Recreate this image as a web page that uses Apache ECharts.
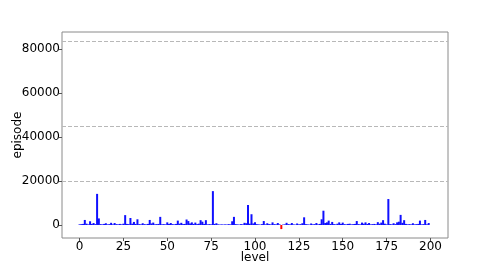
<!DOCTYPE html>
<html>
<head>
<meta charset="utf-8">
<script src="https://cdn.jsdelivr.net/npm/echarts@6/dist/echarts.min.js"></script>
<style>html,body{margin:0;padding:0;background:#fff}#c{width:498px;height:268px}</style>
</head>
<body>
<div id="c"></div>
<script>
const episodes = [
  300, 400, 500, 2300, 600, 300, 1700, 500, 900, 400,
  14150, 3000, 400, 300, 500, 800, 300, 400, 1000, 300,
  900, 400, 300, 500, 300, 600, 4500, 500, 400, 3200,
  600, 1400, 500, 2600, 400, 300, 800, 400, 300, 500,
  2300, 700, 1100, 300, 400, 500, 3700, 300, 400, 300,
  1200, 500, 900, 400, 300, 500, 2000, 600, 1000, 400,
  500, 2500, 1800, 700, 1200, 500, 1100, 400, 600, 2200,
  1500, 500, 2200, 300, 400, 300, 15400, 500, 800, 300,
  200, 300, 200, 300, 200, 400, 300, 1700, 3700, 400,
  300, 200, 400, 300, 1000, 800, 9100, 600, 4900, 700,
  1200, 400, 300, 200, 400, 1800, 300, 800, 400, 300,
  1200, 400, 300, 900, 300, -1850, 200, 300, 1000, 400,
  300, 900, 300, 200, 700, 300, 400, 800, 3500, 400,
  300, 200, 700, 300, 400, 900, 300, 500, 2600, 6500,
  900, 1200, 2000, 500, 1400, 400, 300, 600, 1200, 500,
  1100, 400, 300, 500, 600, 300, 400, 500, 1800, 400,
  300, 1100, 600, 1200, 500, 900, 300, 400, 500, 300,
  1300, 600, 1100, 2200, 600, 300, 11800, 400, 300, 800,
  400, 1200, 1500, 4600, 1000, 2200, 500, 300, 400, 300,
  800, 300, 400, 500, 2000, 300, 400, 2300, 300, 900
];
const levels = episodes.map((_, i) => i);
const thresholds = [19700, 45000, 83500];
const xTicks = [0, 25, 50, 75, 100, 125, 150, 175, 200];
const yTicks = [0, 20000, 40000, 60000, 80000];

const chart = echarts.init(document.getElementById('c'), null, {renderer: 'canvas'});
const font = 'DejaVu Sans';
chart.setOption({
  animation: false,
  backgroundColor: '#fff',
  grid: {left: 62, right: 50, top: 32, bottom: 30, outerBoundsMode: 'none', containLabel: false,
         show: true, borderColor: '#8a8a8a', borderWidth: 1, backgroundColor: 'transparent'},
  xAxis: {
    type: 'value', min: -10, max: 210,
    name: 'level', nameLocation: 'middle', nameGap: 14, nameMoveOverlap: false,
    nameTextStyle: {fontFamily: font, fontSize: 12, color: '#000'},
    axisLine: {show: false, onZero: false},
    splitLine: {show: false},
    axisTick: {show: true, length: 3, lineStyle: {color: '#555'}, customValues: xTicks},
    axisLabel: {fontFamily: font, fontSize: 12, color: '#000', margin: 3, customValues: xTicks,
                formatter: v => String(v)}
  },
  yAxis: {
    type: 'value', min: -5900, max: 87700,
    name: 'episode', nameLocation: 'middle', nameGap: 38, nameMoveOverlap: false,
    nameTextStyle: {fontFamily: font, fontSize: 12, color: '#000'},
    axisLine: {show: false, onZero: false},
    splitLine: {show: false},
    axisTick: {show: true, length: 3, lineStyle: {color: '#555'}, customValues: yTicks},
    axisLabel: {fontFamily: font, fontSize: 12, color: '#000', margin: 2, customValues: yTicks,
                formatter: v => String(v)}
  },
  series: [{
    type: 'bar',
    barWidth: 2,
    data: levels.map((l, i) => [l, episodes[i]]),
    itemStyle: {color: p => p.value[1] < 0 ? '#ff0000' : '#1010ff'},
    markLine: {
      silent: true, symbol: 'none', label: {show: false},
      lineStyle: {color: '#b8b8b8', type: [4, 2], width: 1},
      data: thresholds.map(v => ({yAxis: v}))
    }
  }]
});
</script>
</body>
</html>
